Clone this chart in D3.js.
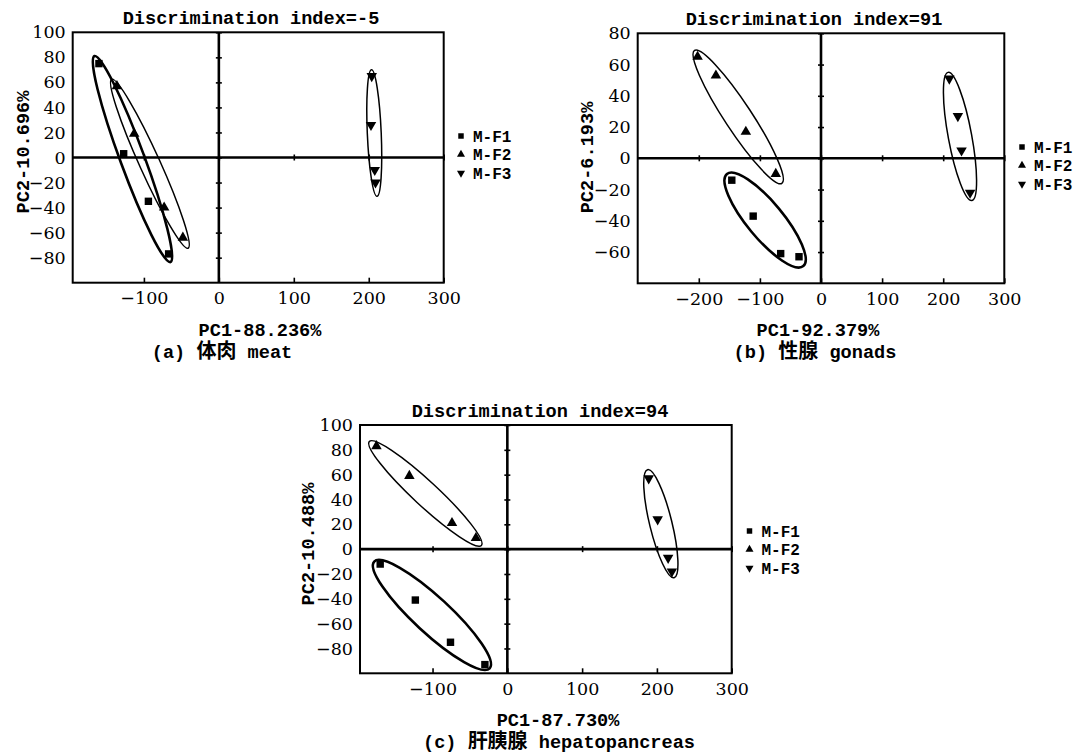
<!DOCTYPE html>
<html>
<head>
<meta charset="utf-8">
<script src="https://cdn.jsdelivr.net/npm/d3@7"></script>
<style>
  body { margin: 0; background: #fff; }
</style>
</head>
<body>
<svg id="chart" width="1089" height="756"></svg>
<script>
// ---- data ----
var groupNames = ["M-F1", "M-F2", "M-F3"];

var panelTitles = ["Discrimination index=-5", "Discrimination index=91", "Discrimination index=94"];
var xTitles = ["PC1-88.236%", "PC1-92.379%", "PC1-87.730%"];
var yTitles = ["PC2-10.696%", "PC2-6.193%", "PC2-10.488%"];
var captionTags = ["(a)", "(b)", "(c)"];
var captionCn = ["体肉", "性腺", "肝胰腺"];
var captionEn = ["meat", "gonads", "hepatopancreas"];

// (a) meat
var meatX = [-195, 300], meatY = [-100, 100];
var meatXTicks = [-100, 0, 100, 200, 300];
var meatYTicks = [-80, -60, -40, -20, 0, 20, 40, 60, 80, 100];
var meatF1 = [[-160, 75], [-127, 3], [-94, -35], [-67, -77]];
var meatF2 = [[-136, 57], [-113, 19], [-73, -40], [-48, -64]];
var meatF3 = [[204, 65], [203, 26], [208, -10], [209, -20]];
// ellipse: major axis end points (x1, y1, x2, y2) and width / length
var meatEllipses = [[-166, 81, -64.5, -83.5, 0.11], [-143, 62.5, -41, -72.5, 0.11], [203.7, 70, 211, -31, 0.11]];

// (b) gonads
var gonadX = [-300, 300], gonadY = [-80, 80];
var gonadXTicks = [-200, -100, 0, 100, 200, 300];
var gonadYTicks = [-60, -40, -20, 0, 20, 40, 60, 80];
var gonadF1 = [[-146, -14], [-111, -37], [-66, -61], [-36, -63]];
var gonadF2 = [[-202, 65], [-172, 53], [-123, 17], [-74, -10]];
var gonadF3 = [[210, 51], [224, 27], [230, 5], [244, -22]];
var gonadEllipses = [[-154, -10, -29, -69, 0.3], [-207, 69, -64, -16, 0.17], [208, 55, 247, -27, 0.18]];

// (c) hepatopancreas
var hepatoX = [-197, 300], hepatoY = [-100, 100];
var hepatoXTicks = [-100, 0, 100, 200, 300];
var hepatoYTicks = [-80, -60, -40, -20, 0, 20, 40, 60, 80, 100];
var hepatoF1 = [[-170, -12], [-123, -41], [-76, -75], [-30, -93]];
var hepatoF2 = [[-175, 83], [-131, 59], [-74, 21], [-42, 9]];
var hepatoF3 = [[189, 57], [201, 24], [215, -7], [220, -18]];
var hepatoEllipses = [[-178, -10, -23.6, -96, 0.23], [-184.5, 86.7, -34.7, 3, 0.16], [187.5, 64, 223, -23, 0.2]];

// ---- drawing ----
var monoFont = "'Liberation Mono', 'Noto Sans CJK SC', monospace";
var serifFont = "'DejaVu Serif', serif";

var svg = d3.select("#chart");

var symbolTypes = [d3.symbolSquare, d3.symbolTriangle, d3.symbolTriangle];
var symbolRotate = [0, 0, 180];
var ellipseWidths = [2.6, 1.5, 1.5];

function monoText(sel, size) {
    return sel.style("font-family", monoFont)
        .style("font-size", size + "px")
        .style("font-weight", "bold");
}

function drawPanel(i, frame, xDomain, yDomain, xTicks, yTicks, series, ellipses) {
    var x = d3.scaleLinear().domain(xDomain).range([0, frame.width]);
    var y = d3.scaleLinear().domain(yDomain).range([frame.height, 0]);

    var g = svg.append("g")
        .attr("transform", "translate(" + frame.left + "," + frame.top + ")");

    // title
    monoText(g.append("text"), 18.6)
        .attr("x", frame.titleX - frame.left)
        .attr("y", -8)
        .attr("text-anchor", "middle")
        .text(panelTitles[i]);

    // zero lines
    g.append("line")
        .attr("x1", 0).attr("x2", frame.width)
        .attr("y1", y(0)).attr("y2", y(0))
        .attr("stroke", "#000").attr("stroke-width", 2.6);
    g.append("line")
        .attr("x1", x(0)).attr("x2", x(0))
        .attr("y1", 0).attr("y2", frame.height)
        .attr("stroke", "#000").attr("stroke-width", 2.6);

    // small ticks on the zero lines
    var zx = g.append("g")
        .attr("transform", "translate(0," + (y(0) - 3) + ")")
        .call(d3.axisBottom(x).tickValues(xTicks).tickSizeInner(6).tickSizeOuter(0).tickFormat(""));
    var zy = g.append("g")
        .attr("transform", "translate(" + (x(0) + 3) + ",0)")
        .call(d3.axisLeft(y).tickValues(yTicks).tickSizeInner(6).tickSizeOuter(0).tickFormat(""));
    zx.select(".domain").remove();
    zy.select(".domain").remove();
    g.selectAll(".tick line").attr("stroke-width", 1.6);

    // bottom axis, ticks pointing into the plot
    var bx = g.append("g")
        .attr("transform", "translate(0," + frame.height + ")")
        .call(d3.axisBottom(x).tickValues(xTicks).tickSizeInner(-5).tickSizeOuter(0).tickPadding(9));
    bx.select(".domain").remove();
    bx.selectAll(".tick line").attr("stroke-width", 1.6);

    var ly = g.append("g")
        .call(d3.axisLeft(y).tickValues(yTicks).tickSize(0).tickPadding(7));
    ly.select(".domain").remove();

    g.selectAll(".tick text")
        .style("font-family", serifFont)
        .style("font-size", "17.5px")
        .attr("fill", "#000");

    // frame
    g.append("rect")
        .attr("width", frame.width)
        .attr("height", frame.height)
        .attr("fill", "none")
        .attr("stroke", "#000")
        .attr("stroke-width", 2);

    // ellipses
    g.selectAll(".ell")
        .data(ellipses).enter()
        .append("ellipse")
        .each(function (e, k) {
            var x1 = x(e[0]), y1 = y(e[1]), x2 = x(e[2]), y2 = y(e[3]);
            var len = Math.hypot(x2 - x1, y2 - y1);
            var ang = Math.atan2(y2 - y1, x2 - x1) * 180 / Math.PI;
            d3.select(this)
                .attr("rx", len / 2)
                .attr("ry", len * e[4] / 2)
                .attr("transform", "translate(" + ((x1 + x2) / 2) + "," + ((y1 + y2) / 2) + ") rotate(" + ang + ")")
                .attr("fill", "none")
                .attr("stroke", "#000")
                .attr("stroke-width", ellipseWidths[k]);
        });

    // points
    series.forEach(function (pts, k) {
        var sym = d3.symbol().type(symbolTypes[k]).size(k === 0 ? 55 : 48);
        g.selectAll(".pt" + k)
            .data(pts).enter()
            .append("path")
            .attr("d", sym)
            .attr("transform", function (d) {
                return "translate(" + x(d[0]) + "," + y(d[1]) + ") rotate(" + symbolRotate[k] + ")";
            })
            .attr("fill", "#000");
    });

    // axis titles
    monoText(g.append("text"), 18.6)
        .attr("x", frame.xTitleX - frame.left)
        .attr("y", frame.height + 53)
        .attr("text-anchor", "middle")
        .text(xTitles[i]);

    monoText(g.append("text"), 18.6)
        .attr("transform", "translate(" + (frame.yTitleX - frame.left) + "," + (frame.yTitleY - frame.top) + ") rotate(-90)")
        .attr("text-anchor", "middle")
        .attr("dy", "0.35em")
        .text(yTitles[i]);

    // caption
    var cap = monoText(g.append("text"), 18.6)
        .attr("x", frame.captionX - frame.left)
        .attr("y", frame.height + 75)
        .attr("text-anchor", "middle");
    cap.append("tspan").text(captionTags[i] + " ");
    cap.append("tspan").style("font-size", "20px").text(captionCn[i]);
    cap.append("tspan").text(" " + captionEn[i]);

    // legend
    var lg = g.append("g")
        .attr("transform", "translate(" + (frame.legendX - frame.left) + "," + (frame.legendY - frame.top) + ")");
    groupNames.forEach(function (name, k) {
        lg.append("path")
            .attr("d", d3.symbol().type(symbolTypes[k]).size(k === 0 ? 30 : 28))
            .attr("transform", "translate(0," + (k * frame.legendStep) + ") rotate(" + symbolRotate[k] + ")")
            .attr("fill", "#000");
        monoText(lg.append("text"), 16)
            .attr("x", 12)
            .attr("y", k * frame.legendStep)
            .attr("dy", "0.35em")
            .text(name);
    });
}

drawPanel(0,
    {left: 72.7, top: 32.3, width: 371, height: 250.4, titleX: 251, xTitleX: 260, yTitleX: 22, yTitleY: 152,
     captionX: 222, legendX: 461, legendY: 136, legendStep: 18.5},
    meatX, meatY, meatXTicks, meatYTicks, [meatF1, meatF2, meatF3], meatEllipses);

drawPanel(1,
    {left: 637.7, top: 33.3, width: 366.6, height: 250, titleX: 814, xTitleX: 818, yTitleX: 586, yTitleY: 157.5,
     captionX: 815, legendX: 1022, legendY: 147, legendStep: 18.5},
    gonadX, gonadY, gonadXTicks, gonadYTicks, [gonadF1, gonadF2, gonadF3], gonadEllipses);

drawPanel(2,
    {left: 360, top: 425, width: 371.7, height: 248.3, titleX: 540, xTitleX: 558, yTitleX: 307, yTitleY: 544,
     captionX: 559, legendX: 749.5, legendY: 531, legendStep: 18.5},
    hepatoX, hepatoY, hepatoXTicks, hepatoYTicks, [hepatoF1, hepatoF2, hepatoF3], hepatoEllipses);
</script>
</body>
</html>
